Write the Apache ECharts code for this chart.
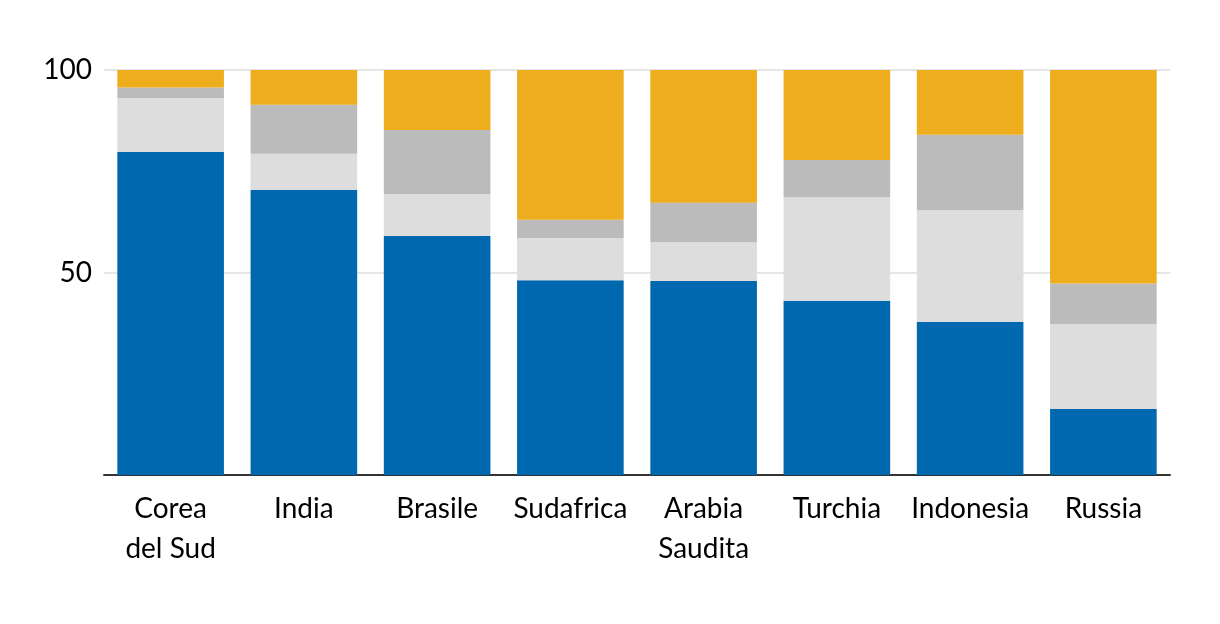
<!DOCTYPE html>
<html>
<head>
<meta charset="utf-8">
<script src="https://cdn.jsdelivr.net/npm/echarts@6/dist/echarts.min.js"></script>
<style>
html,body{margin:0;padding:0;background:#fff;}
#chart{width:1220px;height:624px;}
</style>
</head>
<body>
<div id="chart"></div>
<script>
const categories = ['Corea\ndel Sud', 'India', 'Brasile', 'Sudafrica', 'Arabia\nSaudita', 'Turchia', 'Indonesia', 'Russia'];
const seriesBlue = [79.8, 70.4, 59.0, 48.1, 47.9, 43.0, 37.8, 16.3];
const seriesLight = [13.3, 8.9, 10.4, 10.4, 9.6, 25.6, 27.6, 21.0];
const seriesGrey = [2.6, 12.1, 15.8, 4.5, 9.7, 9.2, 18.6, 10.0];
const seriesGold = [4.3, 8.6, 14.8, 37.0, 32.8, 22.2, 16.0, 52.7];
const yTicks = [0, 50, 100];

const fontFamily = 'Lato, "Open Sans", sans-serif';
const chart = echarts.init(document.getElementById('chart'), null, {renderer: 'canvas'});
function bar(name, data, color) {
  return {
    name: name, type: 'bar', stack: 'total', data: data,
    barCategoryGap: '20%',
    itemStyle: {color: color},
    emphasis: {disabled: true}
  };
}
chart.setOption({
  animation: false,
  backgroundColor: '#ffffff',
  grid: {left: 104, right: 50, top: 70, bottom: 149, containLabel: false},
  xAxis: {
    type: 'category',
    data: categories,
    axisLine: {show: true, lineStyle: {color: '#333333', width: 2}},
    axisTick: {show: false},
    axisLabel: {
      color: '#000000', fontSize: 28, fontFamily: fontFamily,
      lineHeight: 40, margin: 14, interval: 0
    }
  },
  yAxis: {
    type: 'value',
    min: yTicks[0], max: yTicks[yTicks.length - 1], interval: 50,
    axisLine: {show: false},
    axisTick: {show: false},
    splitLine: {show: true, lineStyle: {color: '#e6e6e6', width: 2}},
    axisLabel: {
      color: '#000000', fontSize: 28, fontFamily: fontFamily, margin: 12,
      formatter: function (v) { return v === 0 ? '' : String(v); }
    }
  },
  series: [
    bar('A', seriesBlue, '#0068AF'),
    bar('B', seriesLight, '#DDDDDD'),
    bar('C', seriesGrey, '#BBBBBB'),
    bar('D', seriesGold, '#EDAD1C')
  ]
});
</script>
</body>
</html>
